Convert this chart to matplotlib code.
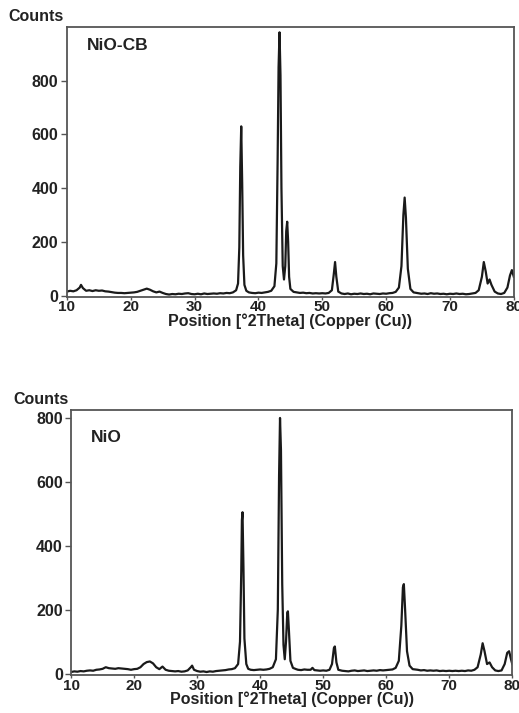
import matplotlib
matplotlib.use("Agg")
import matplotlib.pyplot as plt

# XRD pattern of NiO-CB (top panel)
two_theta_cb = [10.0, 10.5, 11.0, 11.5, 12.0, 12.2, 12.5, 13.0, 13.5, 14.0, 14.5, 15.0, 15.5, 16.0,
                16.5, 17.0, 17.5, 18.0, 18.5, 19.0, 19.5, 20.0, 20.5, 21.0, 21.5, 22.0, 22.5, 23.0,
                23.5, 24.0, 24.5, 25.0, 25.5, 26.0, 26.5, 27.0, 27.5, 28.0, 28.5, 29.0, 29.5, 30.0,
                30.5, 31.0, 31.5, 32.0, 32.5, 33.0, 33.5, 34.0, 34.5, 35.0, 35.5, 36.0, 36.5, 36.8,
                37.0, 37.15, 37.3, 37.45, 37.6, 37.8, 38.1, 38.5, 39.0, 39.5, 40.0, 40.5, 41.0, 41.5,
                42.0, 42.5, 42.8, 43.0, 43.15, 43.3, 43.45, 43.6, 43.8, 44.0, 44.2, 44.35, 44.5, 44.65,
                44.8, 45.0, 45.5, 46.0, 46.5, 47.0, 47.5, 48.0, 48.5, 49.0, 49.5, 50.0, 50.5, 51.0,
                51.5, 51.8, 52.0, 52.2, 52.5, 53.0, 53.5, 54.0, 54.5, 55.0, 55.5, 56.0, 56.5, 57.0,
                57.5, 58.0, 58.5, 59.0, 59.5, 60.0, 60.5, 61.0, 61.5, 62.0, 62.4, 62.7, 62.9, 63.1,
                63.4, 63.8, 64.3, 65.0, 65.5, 66.0, 66.5, 67.0, 67.5, 68.0, 68.5, 69.0, 69.5, 70.0,
                70.5, 71.0, 71.5, 72.0, 72.5, 73.0, 73.5, 74.0, 74.5, 75.0, 75.3, 75.6, 75.9, 76.2,
                76.5, 77.0, 77.5, 78.0, 78.5, 79.0, 79.4, 79.7, 80.0]
counts_cb = [15, 18, 16, 20, 30, 40, 28, 18, 20, 17, 20, 18, 19, 16,
             15, 13, 11, 10, 10, 9, 10, 11, 12, 14, 18, 22, 26, 22,
             16, 12, 15, 10, 6, 4, 6, 5, 7, 6, 8, 9, 6, 5,
             7, 5, 8, 6, 7, 8, 7, 9, 8, 10, 9, 12, 20, 45,
             180, 480, 630, 420, 150, 40, 18, 12, 10, 9, 11, 10, 12, 14,
             18, 35, 120, 500, 850, 980, 820, 400, 110, 60, 110, 240, 275, 200,
             70, 25, 14, 12, 10, 11, 9, 10, 8, 9, 8, 9, 8, 10,
             20, 80, 125, 70, 15, 8, 6, 8, 5, 7, 6, 8, 6, 7,
             5, 8, 7, 6, 8, 7, 9, 10, 14, 30, 110, 300, 365, 290,
             100, 25, 12, 9, 7, 8, 6, 9, 7, 8, 6, 7, 5, 7,
             6, 8, 6, 7, 5, 6, 8, 10, 20, 70, 125, 90, 45, 60,
             40, 15, 8, 6, 10, 30, 75, 95, 70]

# XRD pattern of NiO (bottom panel)
two_theta_nio = [10.0, 10.5, 11.0, 11.5, 12.0, 12.5, 13.0, 13.5, 14.0, 14.5, 15.0, 15.5, 16.0, 16.5,
                 17.0, 17.5, 18.0, 18.5, 19.0, 19.5, 20.0, 20.5, 21.0, 21.5, 22.0, 22.5, 23.0, 23.5,
                 24.0, 24.5, 25.0, 25.5, 26.0, 26.5, 27.0, 27.5, 28.0, 28.5, 29.0, 29.2, 29.5, 30.0,
                 30.5, 31.0, 31.5, 32.0, 32.5, 33.0, 33.5, 34.0, 34.5, 35.0, 35.5, 36.0, 36.5, 36.8,
                 37.0, 37.1, 37.2, 37.35, 37.5, 37.8, 38.1, 38.5, 39.0, 39.5, 40.0, 40.5, 41.0, 41.5,
                 42.0, 42.5, 42.8, 43.0, 43.15, 43.3, 43.5, 43.7, 43.9, 44.1, 44.3, 44.4, 44.55, 44.8,
                 45.2, 45.7, 46.0, 46.5, 47.0, 47.5, 48.0, 48.3, 48.6, 49.0, 49.5, 50.0, 50.5, 51.0,
                 51.4, 51.7, 51.85, 52.1, 52.4, 53.0, 53.5, 54.0, 54.5, 55.0, 55.5, 56.0, 56.5, 57.0,
                 57.5, 58.0, 58.5, 59.0, 59.5, 60.0, 60.5, 61.0, 61.5, 62.0, 62.4, 62.65, 62.8, 63.0,
                 63.3, 63.7, 64.2, 65.0, 65.5, 66.0, 66.5, 67.0, 67.5, 68.0, 68.5, 69.0, 69.5, 70.0,
                 70.5, 71.0, 71.5, 72.0, 72.5, 73.0, 73.5, 74.0, 74.5, 75.0, 75.3, 75.6, 76.0, 76.4,
                 76.8, 77.3, 77.8, 78.3, 78.8, 79.2, 79.5, 79.8, 80.0]
counts_nio = [5, 7, 6, 8, 7, 9, 10, 9, 12, 13, 15, 20, 17, 16,
              15, 17, 16, 15, 14, 12, 14, 15, 20, 30, 36, 38, 32, 20,
              14, 22, 12, 9, 8, 7, 8, 6, 7, 10, 20, 25, 12, 8,
              6, 7, 5, 7, 6, 8, 9, 10, 11, 13, 14, 17, 30, 100,
              320, 480, 505, 330, 110, 30, 15, 12, 11, 12, 13, 12, 13, 15,
              20, 45, 200, 620, 800, 700, 280, 90, 45, 100, 190, 195, 140, 40,
              18, 14, 12, 11, 13, 12, 12, 18, 11, 10, 9, 10, 9, 12,
              30, 80, 85, 35, 12, 9, 8, 7, 9, 10, 8, 9, 10, 8,
              9, 10, 9, 11, 10, 11, 12, 13, 18, 40, 150, 270, 280, 200,
              70, 25, 14, 12, 10, 11, 9, 10, 9, 10, 8, 9, 8, 9,
              8, 9, 8, 9, 8, 10, 9, 12, 20, 60, 95, 70, 30, 35,
              20, 10, 8, 10, 30, 65, 70, 45, 30]

x_ticks = [10, 20, 30, 40, 50, 60, 70, 80]
y_ticks_cb = [0, 200, 400, 600, 800]
y_ticks_nio = [0, 200, 400, 600, 800]

plt.rcParams['font.family'] = ['Liberation Sans', 'DejaVu Sans']
plt.rcParams['font.weight'] = 'bold'
plt.rcParams['axes.labelweight'] = 'bold'

fig = plt.figure(figsize=(5.19, 7.13), dpi=100)
ax1 = fig.add_axes([0.129, 0.5835, 0.861, 0.3787])
ax2 = fig.add_axes([0.137, 0.053, 0.850, 0.372])

panels = [
    (ax1, two_theta_cb, counts_cb, y_ticks_cb, (-5, 1000), "NiO-CB", 0.93),
    (ax2, two_theta_nio, counts_nio, y_ticks_nio, (-5, 825), "NiO", 0.895),
]

for ax, x, y, yt, ylim, name, ty in panels:
    ax.plot(x, y, color='#1a1a1a', lw=1.6)
    ax.set_xlim(10, 80)
    ax.set_ylim(*ylim)
    ax.set_xticks(x_ticks)
    ax.set_yticks(yt)
    ax.tick_params(axis='y', direction='out', length=4, width=1, color='#555555',
                   labelsize=11.5, pad=2, labelcolor='#222222')
    ax.tick_params(axis='x', direction='out', length=2.5, width=1, color='#555555',
                   labelsize=11, pad=0, labelcolor='#222222')
    for sp in ax.spines.values():
        sp.set_color('#555555')
        sp.set_linewidth(1.3)
    ax.set_xlabel("Position [°2Theta] (Copper (Cu))", fontsize=11.5, labelpad=-1,
                  color='#222222')
    ax.text(0.045, ty, name, transform=ax.transAxes, fontsize=12.5, va='center',
            color='#222222')
    ax.text(-0.13, 1.04, "Counts", transform=ax.transAxes, fontsize=11.5, va='center',
            color='#222222')

fig.savefig("out.png", dpi=100)
